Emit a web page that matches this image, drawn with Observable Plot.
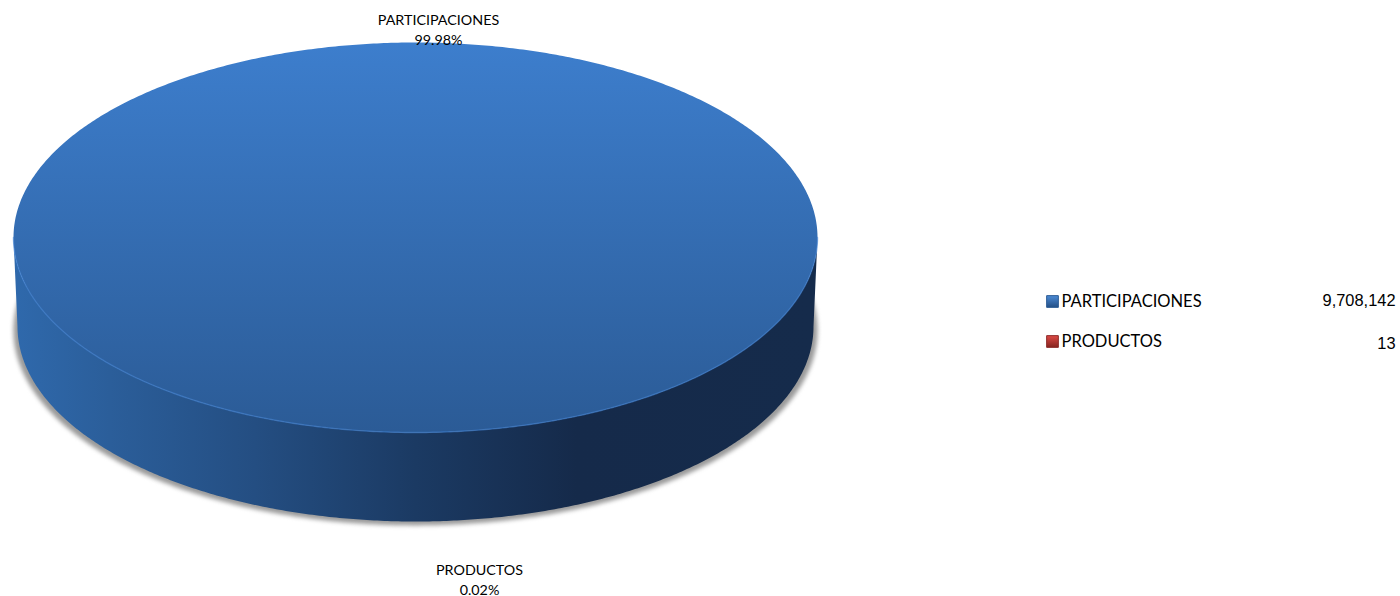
<!DOCTYPE html>
<html>
<head>
<meta charset="utf-8">
<script src="https://cdn.jsdelivr.net/npm/d3@7"></script>
<script src="https://cdn.jsdelivr.net/npm/@observablehq/plot@0.6"></script>
<style>html,body{margin:0;padding:0;background:#fff}</style>
</head>
<body>
<div id="chart"></div>
<script>
const categories = ["PARTICIPACIONES", "PRODUCTOS"];
const amounts = [9708142, 13];
const amountLabels = ["9,708,142", "13"];
const percentLabels = ["99.98%", "0.02%"];

const faceFill = ["url(#faceBlue)", "url(#faceRed)"];
const keyFill = ["url(#keyBlue)", "url(#keyRed)"];
const keyStroke = ["#2a5a94", "#8c2a28"];

// Pie geometry, in units of the pie radius
const depth = 89 / 195, shrink = 398 / 402;
const TAU = Math.PI * 2;

const productShare = amounts[1] / d3.sum(amounts);
const slices = d3.pie().sort(null)
  .startAngle(Math.PI + productShare * Math.PI)
  .endAngle(Math.PI * 3 + productShare * Math.PI)(amounts);

const rim = (a) => ({x: Math.sin(a), y: Math.cos(a)});
const floor = (a) => ({x: Math.sin(a) * shrink, y: Math.cos(a) - depth});

function angles(a0, a1) {
  const n = Math.max(2, Math.ceil((a1 - a0) / TAU * 720));
  return d3.range(n + 1).map((i) => a0 + (a1 - a0) * i / n);
}

// Top face of one slice
function facePoints(s) {
  return [{x: 0, y: 0}, ...angles(s.startAngle, s.endAngle).map(rim)];
}

// Outer wall between two angles
function wallPoints(a0, a1) {
  const run = angles(a0, a1);
  return [...run.map(floor), ...run.slice().reverse().map(rim)];
}

const frontStart = Math.PI / 2, frontEnd = Math.PI * 1.5;
const front = angles(frontStart, frontEnd);
const shadow = angles(0, TAU).map((a) => ({x: Math.sin(a), y: Math.cos(a) - depth - 0.02}));
const productSlice = slices[1];

const defs = () => {
  const d = document.createElementNS("http://www.w3.org/2000/svg", "defs");
  d.innerHTML = `
  <linearGradient id="faceBlue" gradientUnits="userSpaceOnUse" x1="0" y1="42" x2="0" y2="432">
    <stop offset="0" stop-color="#3d7ecd"/><stop offset="1" stop-color="#2b5b96"/>
  </linearGradient>
  <linearGradient id="faceRed" gradientUnits="userSpaceOnUse" x1="0" y1="42" x2="0" y2="432">
    <stop offset="0" stop-color="#cf3f3c"/><stop offset="1" stop-color="#9c2d2a"/>
  </linearGradient>
  <linearGradient id="wallBlue" gradientUnits="userSpaceOnUse" x1="13" y1="0" x2="817" y2="0">
    <stop offset="0" stop-color="#2f69ac"/><stop offset="0.12" stop-color="#2b5e9a"/>
    <stop offset="0.3" stop-color="#244e82"/><stop offset="0.5" stop-color="#1b3a63"/>
    <stop offset="0.7" stop-color="#152a4a"/><stop offset="1" stop-color="#152b4b"/>
  </linearGradient>
  <linearGradient id="wallRed" gradientUnits="userSpaceOnUse" x1="13" y1="0" x2="817" y2="0">
    <stop offset="0" stop-color="#8c2a28"/><stop offset="1" stop-color="#5a1b1a"/>
  </linearGradient>
  <linearGradient id="keyBlue" x1="0" y1="0" x2="0" y2="1">
    <stop offset="0" stop-color="#4d8bd6"/><stop offset="1" stop-color="#234f85"/>
  </linearGradient>
  <linearGradient id="keyRed" x1="0" y1="0" x2="0" y2="1">
    <stop offset="0" stop-color="#de4a46"/><stop offset="1" stop-color="#85241f"/>
  </linearGradient>`;
  return d;
};

const labelFont = "Lato, 'Open Sans', sans-serif";
const valueFont = "'Liberation Sans', Arial, sans-serif";

const chart = Plot.plot({
  width: 1400,
  height: 596,
  margin: 0,
  style: {background: "#fff"},
  x: {domain: [-1, 1], range: [13, 817], axis: null},
  y: {domain: [1, -1], range: [42, 432], axis: null},
  marks: [
    defs,
    // soft shadow under the disc
    Plot.line(shadow, {x: "x", y: "y", stroke: "none", fill: "#9a9a9a", imageFilter: "blur(2.2px)"}),
    // walls: the whole front in the large slice's paint, then the sub-pixel slice over it
    Plot.line(wallPoints(frontStart, frontEnd), {x: "x", y: "y", stroke: "none", fill: "url(#wallBlue)"}),
    Plot.line(wallPoints(productSlice.startAngle, productSlice.endAngle), {x: "x", y: "y", stroke: "none", fill: "url(#wallRed)"}),
    // top faces
    ...slices.map((s, i) => Plot.line(facePoints(s), {x: "x", y: "y", stroke: "none", fill: faceFill[i]})),
    // bevel on the near edge
    Plot.line(front.map(rim), {x: "x", y: "y", stroke: "#3f80d2", strokeWidth: 1.4, strokeOpacity: 0.6}),
    // pie labels
    Plot.text([0], {x: () => 0, y: () => 1, dx: 23, dy: -13.5,
      text: () => categories[0] + "\n" + percentLabels[0],
      fontFamily: labelFont, fontSize: 14.3, fill: "#000", lineHeight: 1.4}),
    Plot.text([1], {x: () => 0, y: () => -1 - depth, dx: 64, dy: 57,
      text: () => categories[1] + "\n" + percentLabels[1],
      fontFamily: labelFont, fontSize: 14.3, fill: "#000", lineHeight: 1.4}),
    // legend
    ...categories.flatMap((name, i) => {
      const top = [301, 341][i];
      const valueTop = [300, 343][i];
      return [
        Plot.dot([name], {frameAnchor: "top-left", dx: 1052, dy: top, symbol: "square", r: 6.6,
          fill: keyFill[i], stroke: keyStroke[i], strokeWidth: 1}),
        Plot.text([name], {frameAnchor: "top-left", dx: 1061, dy: top, text: (d) => d, textAnchor: "start",
          lineAnchor: "middle", fontFamily: labelFont, fontSize: 16.5, fill: "#000"}),
        Plot.text([amountLabels[i]], {frameAnchor: "top-left", dx: 1395, dy: valueTop, text: (d) => d, textAnchor: "end",
          lineAnchor: "middle", fontFamily: valueFont, fontSize: 16.4, fill: "#000"})
      ];
    })
  ]
});
document.getElementById("chart").appendChild(chart);
</script>
</body>
</html>
